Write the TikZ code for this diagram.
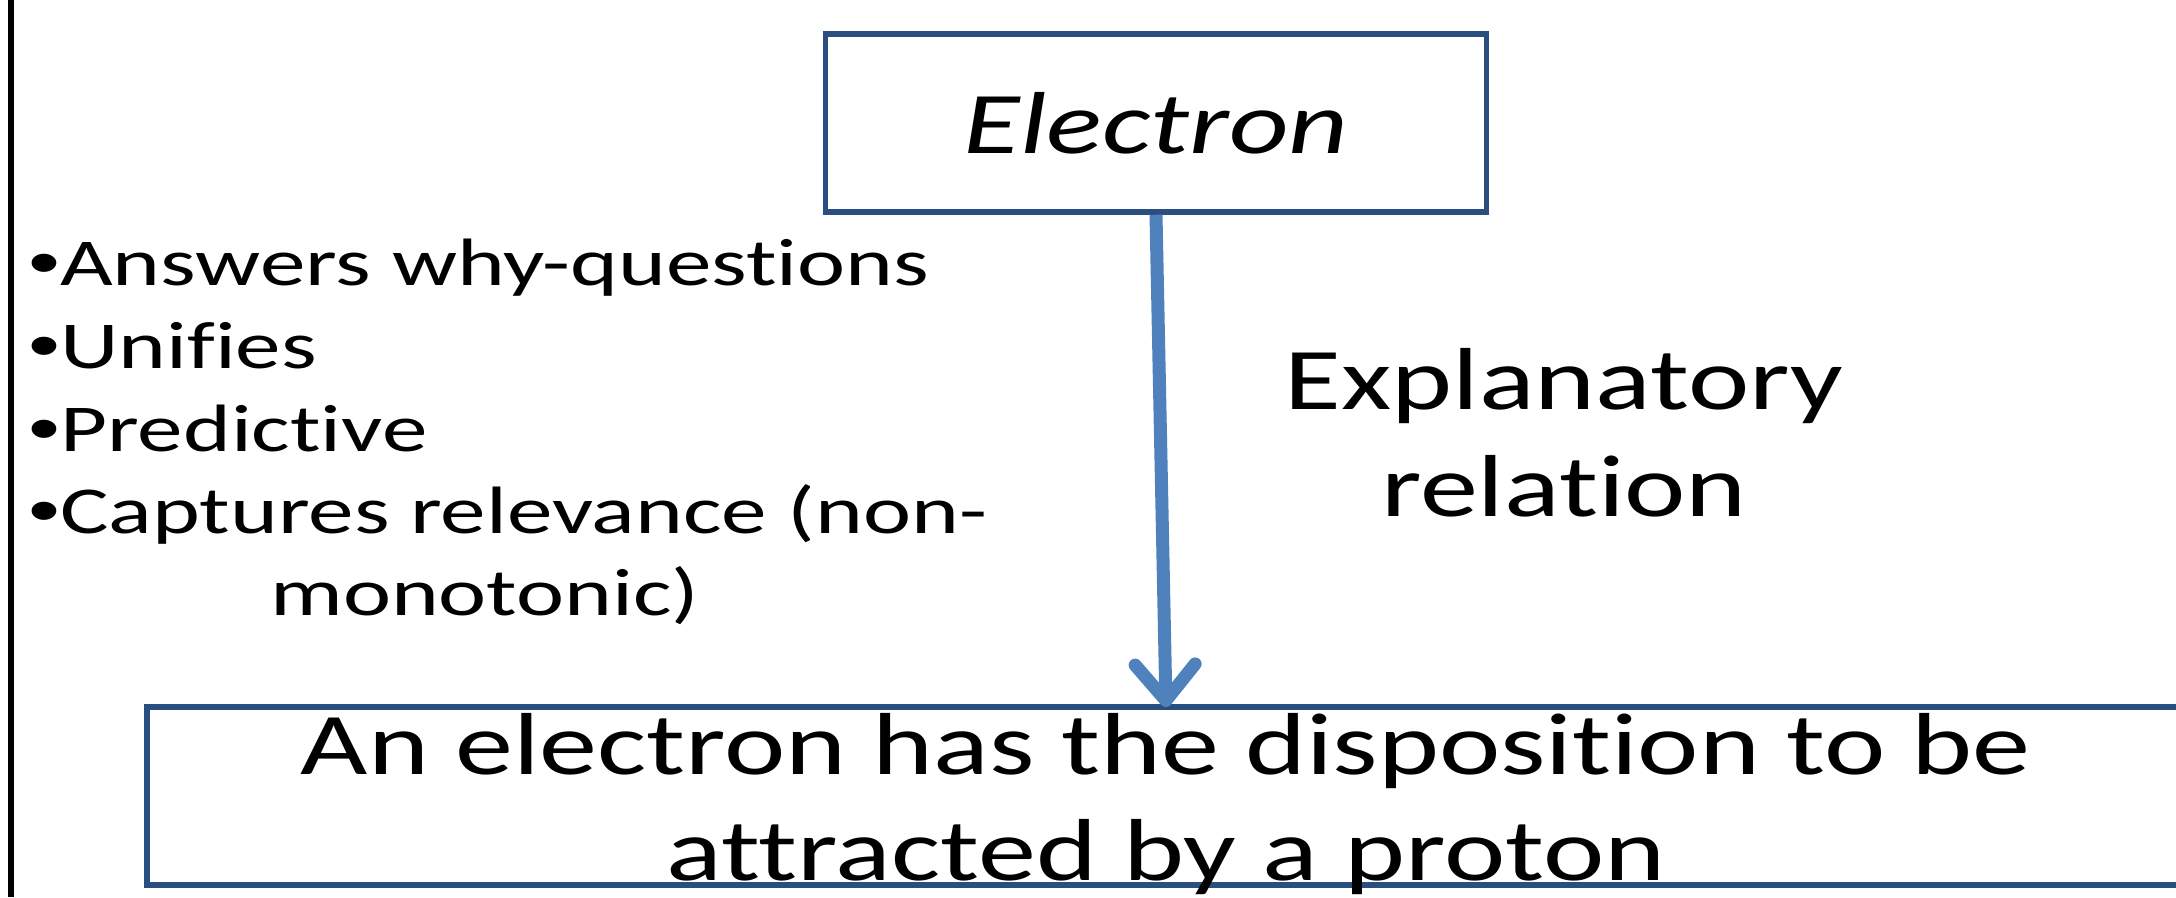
\documentclass[tikz,border=0pt]{standalone}
\usepackage{fontspec}
\setmainfont{Carlito}[FakeStretch=1.32, Ligatures={NoCommon}, RawFeature={-liga;-clig;-calt;-dlig}]
\newfontfamily\listfont{Carlito}[FakeStretch=1.36, Ligatures={NoCommon}, RawFeature={-liga;-clig;-calt;-dlig}]
\newfontfamily\bulfont{Liberation Sans}[FakeStretch=1.36]
\newcommand{\bul}{{\bulfont •}}
\newcommand{\nl}{\kern0pt }
\usetikzlibrary{arrows.meta}
\definecolor{boxblue}{HTML}{2A4E80}
\definecolor{arrowblue}{HTML}{4F81BD}
\tikzset{
  boxstyle/.style={draw=boxblue, line width=5.5pt, rectangle, inner sep=0pt},
  bigtext/.style={font=\fontsize{88}{107}\selectfont, inner sep=0pt},
  listtext/.style={font=\listfont\fontsize{67}{82}\selectfont, inner sep=0pt, anchor=base west},
  relarrow/.style={draw=arrowblue, line width=13pt, -{Straight Barb[length=36pt,width=60pt,round]}},
}
\begin{document}
\begin{tikzpicture}[x=1pt,y=-1pt]
\clip (0,0) rectangle (2176,897);
\fill[white] (0,0) rectangle (2176,897);
% left border line
\coordinate (lt) at (11,0);
\coordinate (lb) at (11,897);
\draw[line width=5.5pt, black] (lt) -- (lb);
% top box
\node[boxstyle, bigtext, minimum width=661pt, minimum height=178pt] (top) at (1156,123) {\itshape Electron};
% bottom box
\node[boxstyle, minimum width=2038pt, minimum height=178pt] (bot) at (1166,796) {};
\node[bigtext, anchor=base] (l1) at (1166,774) {An electron has the disposit\nl ion to be};
\node[bigtext, anchor=base] (l2) at (1166,880) {attracted by a proton};
% arrow
\coordinate (tip) at (1166,707);
\draw[relarrow] (top.south) -- (tip);
% explanatory relation
\node[bigtext, anchor=base] (e1) at (1564,409) {Explanatory};
\node[bigtext, anchor=base] (e2) at (1564,516) {relat\nl ion};
% bullet list
\node[listtext] (b1) at (28,285) {\bul Answers why-quest\nl ions};
\node[listtext] (b2) at (28,368) {\bul Unif\nl ies};
\node[listtext] (b3) at (28,451) {\bul Predict\nl ive};
\node[listtext] (b4) at (28,533) {\bul Captures relevance (non-};
\node[listtext] (b5) at (270,615) {monotonic)};
\end{tikzpicture}
\end{document}
